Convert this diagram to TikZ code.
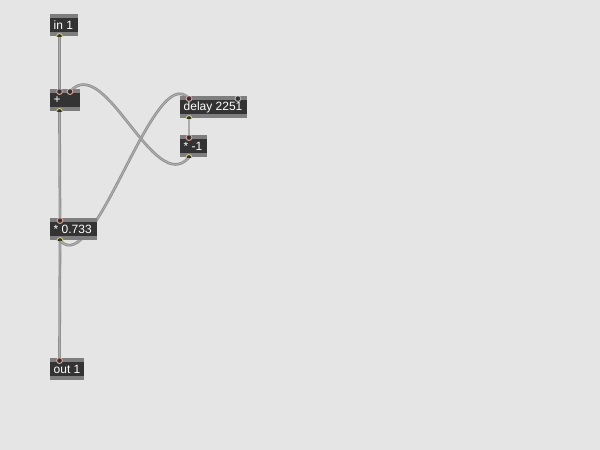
\documentclass[tikz,border=0pt]{standalone}
\usepackage{fontspec}
\setmainfont{Liberation Sans}
\usetikzlibrary{calc,backgrounds}
\definecolor{canvas}{HTML}{E5E5E5}
\definecolor{boxbar}{HTML}{7E7E7E}
\definecolor{boxbody}{HTML}{333333}
\definecolor{inletcol}{HTML}{E0A3A0}
\definecolor{outletcol}{HTML}{CFCF7A}
\definecolor{idlecol}{HTML}{B8B8B8}
\definecolor{cordedge}{HTML}{8E8E8E}
\definecolor{cordfill}{HTML}{ACACAC}
\tikzset{
  maxbox/.style={anchor=north west, fill=boxbar, inner xsep=0pt, inner ysep=0pt,
    minimum height=22pt, text=white, font=\fontsize{12}{12}\selectfont,
    path picture={\fill[boxbody]
      ($(path picture bounding box.north west)+(0,3.6)$) rectangle
      ($(path picture bounding box.south east)+(0,-4)$);}},
  cord/.style={draw=cordedge, double=cordfill, double distance=1.1pt, line width=0.8pt},
  inlet/.style={fill=boxbody, draw=inletcol, line width=0.9pt},
  idle/.style={fill=boxbody, draw=idlecol, line width=0.9pt},
  outlet/.style={fill=boxbody, draw=outletcol, line width=0.9pt},
}
\newcommand{\maxlabel}[2]{\hbox to #1pt{\hspace{3.5pt}#2\hss}}
\begin{document}
\begin{tikzpicture}[x=1pt,y=-1pt]
\useasboundingbox (0,0) rectangle (600,450);

% objects
\node[maxbox] (in1)   at (50,14)  {\maxlabel{28}{in 1}};
\node[maxbox] (plus)  at (50,89)  {\maxlabel{30}{+}};
\node[maxbox] (delay) at (180,96) {\maxlabel{67}{delay 2251}};
\node[maxbox] (neg)   at (180,135){\maxlabel{27}{* -1}};
\node[maxbox] (mul)   at (50,218) {\maxlabel{47}{* 0.733}};
\node[maxbox] (out1)  at (50,358) {\maxlabel{34}{out 1}};

% ports
\coordinate (in1-o)    at ($(in1.south west)+(9.5,0)$);
\coordinate (plus-i1)  at ($(plus.north west)+(9.5,2.6)$);
\coordinate (plus-i2)  at ($(plus.north west)+(20,2.6)$);
\coordinate (plus-o)   at ($(plus.south west)+(9.5,0)$);
\coordinate (delay-i1) at ($(delay.north west)+(9,2.6)$);
\coordinate (delay-i2) at ($(delay.north east)+(-9.5,2.6)$);
\coordinate (delay-o)  at ($(delay.south west)+(9,0)$);
\coordinate (neg-i1)   at ($(neg.north west)+(9,2.6)$);
\coordinate (neg-o)    at ($(neg.south west)+(9,0)$);
\coordinate (mul-i1)   at ($(mul.north west)+(10,2.6)$);
\coordinate (mul-o)    at ($(mul.south west)+(10,0)$);
\coordinate (out1-i1)  at ($(out1.north west)+(9.5,2.6)$);

% canvas and patch cords, behind the objects
\begin{scope}[on background layer]
\fill[canvas] (0,0) rectangle (600,450);
\draw[cord] (in1-o) -- (plus-i1);
\draw[cord] (plus-o) -- (mul-i1);
\draw[cord] (mul-o) -- (out1-i1);
\draw[cord] (delay-o) -- (neg-i1);
\draw[cord] (mul-o) .. controls ($(mul-o)+(35,40)$) and ($(delay-i1)+(-35,-40)$) .. (delay-i1);
\draw[cord] (neg-o) .. controls ($(neg-o)+(-35,40)$) and ($(plus-i2)+(35,-40)$) .. (plus-i2);
\end{scope}

% inlets and outlets, clipped to their boxes
\foreach \b/\p/\s in {plus/plus-i1/inlet, plus/plus-i2/inlet, delay/delay-i1/inlet,
  delay/delay-i2/idle, neg/neg-i1/inlet, mul/mul-i1/inlet, out1/out1-i1/inlet,
  in1/in1-o/outlet, plus/plus-o/outlet, delay/delay-o/outlet, neg/neg-o/outlet, mul/mul-o/outlet}{
  \begin{scope}
    \clip (\b.south west) rectangle (\b.north east);
    \path[\s] (\p) circle (2.9);
  \end{scope}
}
\end{tikzpicture}
\end{document}
